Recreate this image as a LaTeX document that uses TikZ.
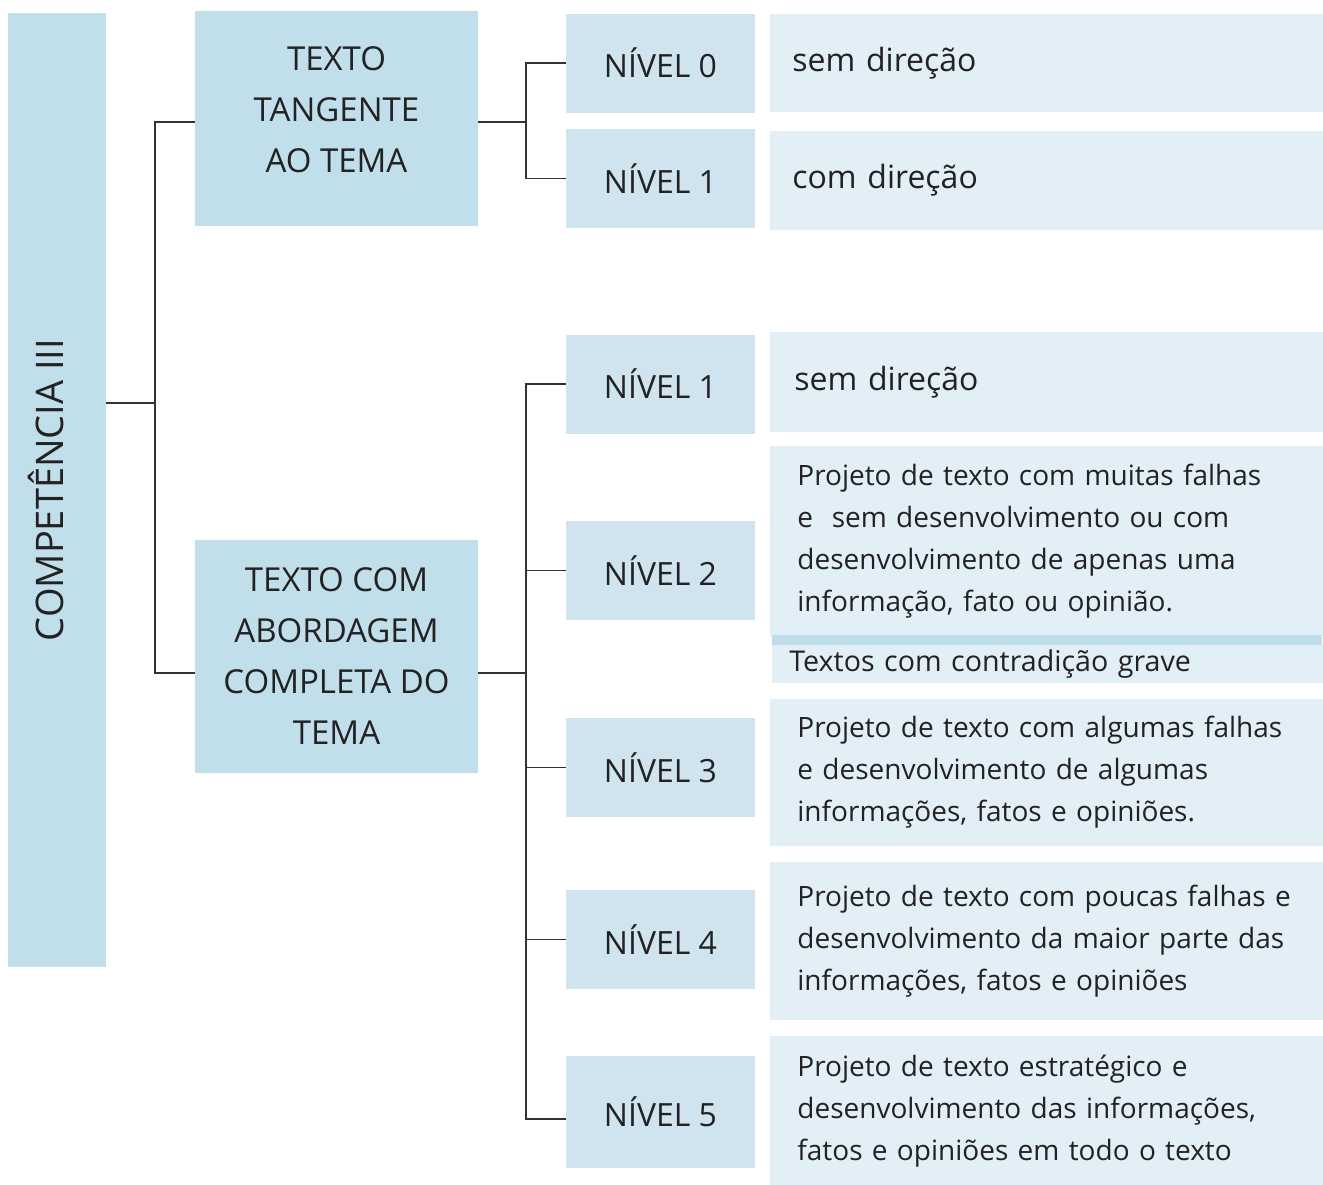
\documentclass[tikz,border=0pt]{standalone}
\usepackage{fontspec}
\setmainfont{Open Sans}
\definecolor{boxA}{HTML}{C1DEEB}
\definecolor{boxB}{HTML}{CFE4EF}
\definecolor{boxC}{HTML}{E3EFF6}
\definecolor{ink}{HTML}{222222}
\definecolor{wirec}{HTML}{333333}
\newcommand\liftup[1]{\raisebox{4.25pt}[\height][\depth]{#1}}

\begin{document}
\begin{tikzpicture}[x=0.5pt,y=-0.5pt,
    topic/.style={fill=boxA, text=ink, font=\fontsize{16.5}{25.5}\selectfont, align=center, minimum width=141.5pt, inner sep=0pt},
    level/.style={fill=boxB, text=ink, font=\fontsize{16}{18}\selectfont, minimum width=94.5pt, minimum height=49.5pt, inner sep=0pt},
    desc/.style={fill=boxC, text=ink, font=\fontsize{14}{21}\selectfont, align=left, anchor=west, text width=260pt, inner xsep=13.5pt, inner ysep=0pt},
    wire/.style={draw=wirec, line width=0.75pt}]

\useasboundingbox (0,0) rectangle (1323,1184);

% STEP 1: the main column and the two topics.
\node[topic, rotate=90, minimum width=477pt, minimum height=49pt, font=\fontsize{19}{20}\selectfont] (comp) at (57,490) {\raisebox{5.5pt}[\height][\depth]{COMPETÊNCIA III}};
\node[topic, minimum height=107.5pt] (tang) at (336.5,118.5) {\liftup{TEXTO}\\\liftup{TANGENTE}\\\liftup{AO TEMA}};
\node[topic, minimum height=116.5pt] (abord) at (336.5,656.5) {TEXTO COM\\ABORDAGEM\\COMPLETA DO\\TEMA};

% STEP 2: the levels.
\node[level] (t0) at (660.5,63) {NÍVEL 0};
\node[level] (t1) at (660.5,178.5) {NÍVEL 1};
\node[level] (a1) at (660.5,384) {NÍVEL 1};
\node[level] (a2) at (660.5,570.5) {NÍVEL 2};
\node[level] (a3) at (660.5,767.5) {NÍVEL 3};
\node[level] (a4) at (660.5,939.5) {NÍVEL 4};
\node[level, minimum height=56pt] (a5) at (660.5,1112) {NÍVEL 5};

% STEP 3: what each level means.
\node[desc, minimum height=49pt, inner xsep=11pt, font=\fontsize{16}{21}\selectfont] (dt0) at (770,63) {sem direção};
\node[desc, minimum height=49.5pt, inner xsep=11pt, font=\fontsize{16}{21}\selectfont] (dt1) at (770,180) {com direção};
\node[desc, minimum height=50pt, inner xsep=12pt, font=\fontsize{16}{21}\selectfont] (da1) at (770,382) {sem direção};
\node[desc, minimum height=95pt] (da2) at (770,541) {Projeto de texto com muitas falhas\\e \ sem desenvolvimento ou com\\desenvolvimento de apenas uma\\informação, fato ou opinião.};
\fill[boxA] (772,635) rectangle (1322,645);
\node[desc, minimum height=19pt, inner xsep=8.5pt, font=\fontsize{14.3}{21}\selectfont] (da2b) at (772,664) {Textos com contradição grave};
\node[desc, minimum height=73.5pt] (da3) at (770,772) {Projeto de texto com algumas falhas\\e desenvolvimento de algumas\\informações, fatos e opiniões.};
\node[desc, minimum height=79pt] (da4) at (770,941) {Projeto de texto com poucas falhas e\\desenvolvimento da maior parte das\\informações, fatos e opiniões};
\node[desc, minimum height=75pt] (da5) at (770,1111) {Projeto de texto estratégico e\\desenvolvimento das informações,\\fatos e opiniões em todo o texto};

% STEP 4: the connectors.
\coordinate (jc) at (155,403);
\coordinate (jt) at (526,122);
\coordinate (ja) at (526,673);
\draw[wire] (comp.south |- jc) -- (jc);
\draw[wire] (jc) |- ([yshift=-1.75pt]tang.west);
\draw[wire] (jc) |- ([yshift=-8.25pt]abord.west);
\draw[wire] ([yshift=-1.75pt]tang.east) -- (jt);
\draw[wire] (jt) |- (t0.west);
\draw[wire] (jt) |- (t1.west);
\draw[wire] ([yshift=-8.25pt]abord.east) -- (ja);
\foreach \n in {a1,a2,a3,a4}
  \draw[wire] (ja) |- (\n.west);
\draw[wire] (ja) |- ([yshift=-3.5pt]a5.west);

\end{tikzpicture}
\end{document}
